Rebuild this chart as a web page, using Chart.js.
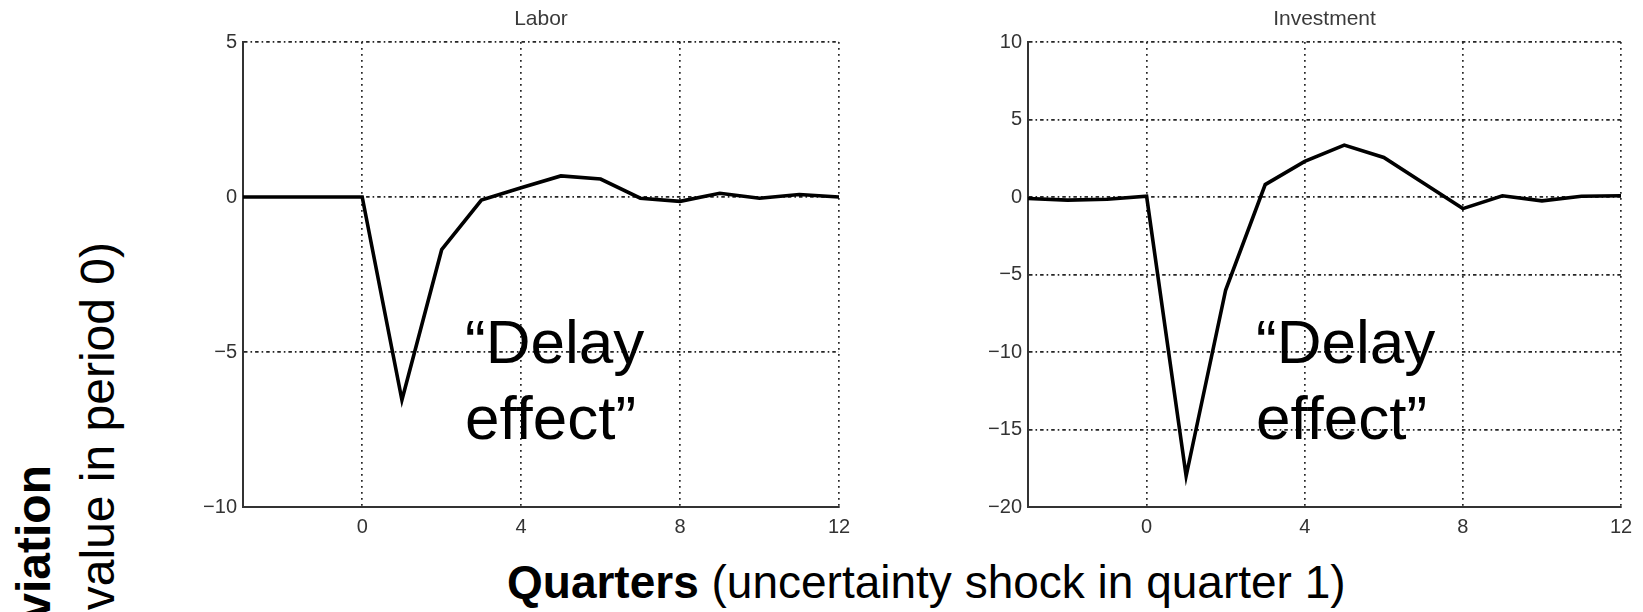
<!DOCTYPE html>
<html>
<head>
<meta charset="utf-8">
<script src="https://cdn.jsdelivr.net/npm/chart.js@4.4.1/dist/chart.umd.min.js"></script>
<style>
  html, body { margin:0; padding:0; width:1643px; height:612px; overflow:hidden; background:#fff; }
  body { position:relative; font-family:'Liberation Sans', Arial, Helvetica, sans-serif; color:#000; }
  .cv { position:absolute; top:0; }
  .note { position:absolute; font-size:62px; line-height:76px; white-space:nowrap; color:#000; }
  .ylab { position:absolute; width:700px; text-align:right; white-space:nowrap; font-size:48px; line-height:48px;
          transform-origin:0 0; transform:rotate(-90deg); color:#000; }
  .xlab { position:absolute; left:507px; top:554px; font-size:46px; line-height:56px; white-space:nowrap; }
</style>
</head>
<body>
<div class="cv" style="left:150px;width:720px;height:545px;"><canvas id="c1"></canvas></div>
<div class="cv" style="left:935px;width:708px;height:545px;"><canvas id="c2"></canvas></div>

<div class="note" style="left:465px;top:304px;">“Delay<br>effect”</div>
<div class="note" style="left:1256px;top:304px;">“Delay<br>effect”</div>

<div class="ylab" style="left:10px;top:1165px;font-weight:bold;">% Deviation</div>
<div class="ylab" style="left:74px;top:942px;">(from value in period 0)</div>

<div class="xlab"><b>Quarters</b> (uncertainty shock in quarter 1)</div>

<script>
// ---- data ----
const quarters = [-3, -2, -1, 0, 1, 2, 3, 4, 5, 6, 7, 8, 9, 10, 11, 12];
const laborValues = [0, 0, 0, 0, -6.55, -1.7, -0.1, 0.3, 0.68, 0.58, -0.04, -0.14, 0.12, -0.04, 0.08, 0];
const investmentValues = [-0.1, -0.2, -0.15, 0.05, -18.0, -6.0, 0.8, 2.3, 3.35, 2.55, 0.9, -0.75, 0.08, -0.25, 0.05, 0.08];
const xTickValues = [0, 4, 8, 12];
const laborYTicks = [-10, -5, 0, 5];
const investmentYTicks = [-20, -15, -10, -5, 0, 5, 10];

Chart.defaults.font.family = "'Liberation Sans', Arial, Helvetica, sans-serif";
Chart.defaults.animation = false;

const titlePlugin = {
  id: 'panelTitle',
  afterDraw(chart, args, opts) {
    const ctx = chart.ctx, a = chart.chartArea;
    ctx.save();
    ctx.font = "21px 'Liberation Sans', Arial, sans-serif";
    ctx.fillStyle = '#3a3a3a';
    ctx.textAlign = 'center';
    ctx.textBaseline = 'alphabetic';
    ctx.fillText(opts.text, (a.left + a.right) / 2, 25);
    ctx.restore();
  }
};

// solid axis lines (left and bottom) on top of the dotted grid
const solidAxes = {
  id: 'solidAxes',
  beforeDatasetsDraw(chart) {
    const ctx = chart.ctx, a = chart.chartArea;
    ctx.save();
    ctx.strokeStyle = '#333';
    ctx.lineWidth = 2;
    ctx.setLineDash([]);
    ctx.beginPath();
    ctx.moveTo(a.left, a.top);
    ctx.lineTo(a.left, a.bottom);
    ctx.lineTo(a.right, a.bottom);
    ctx.stroke();
    ctx.restore();
  }
};

function makeChart(id, title, values, yTicks, padRight) {
  const pts = quarters.map((q, i) => ({ x: q, y: values[i] }));
  const gridCol = '#262626';
  return new Chart(document.getElementById(id), {
    type: 'line',
    data: { datasets: [{ data: pts, borderColor: '#000', borderWidth: 3.6, pointRadius: 0,
                         tension: 0, borderJoinStyle: 'miter', fill: false }] },
    options: {
      responsive: true, maintainAspectRatio: false,
      layout: { padding: { top: 42, right: padRight, left: 0, bottom: 0 } },
      plugins: { legend: { display: false }, tooltip: { enabled: false }, panelTitle: { text: title } },
      scales: {
        x: {
          type: 'linear', min: quarters[0], max: quarters[quarters.length - 1],
          afterBuildTicks: s => { s.ticks = xTickValues.map(v => ({ value: v })); },
          afterFit: s => { s.height = 38; },
          grid: { color: gridCol, lineWidth: 1.7, drawTicks: false },
          border: { display: true, color: '#333', width: 2, dash: [1.8, 4.2] },
          ticks: { color: '#333', font: { size: 20 }, padding: 8, maxRotation: 0 }
        },
        y: {
          min: yTicks[0], max: yTicks[yTicks.length - 1],
          afterBuildTicks: s => { s.ticks = yTicks.map(v => ({ value: v })); },
          afterFit: s => { s.width = 93; },
          grid: { color: gridCol, lineWidth: 1.7, drawTicks: false },
          border: { display: true, color: '#333', width: 2, dash: [3.5, 3, 1.6, 3] },
          ticks: { color: '#333', font: { size: 20 }, padding: 6,
                   callback: v => String(v).replace('-', '\u2212') }
        }
      }
    },
    plugins: [titlePlugin, solidAxes]
  });
}

makeChart('c1', 'Labor', laborValues, laborYTicks, 31);
makeChart('c2', 'Investment', investmentValues, investmentYTicks, 22);
</script>
</body>
</html>
